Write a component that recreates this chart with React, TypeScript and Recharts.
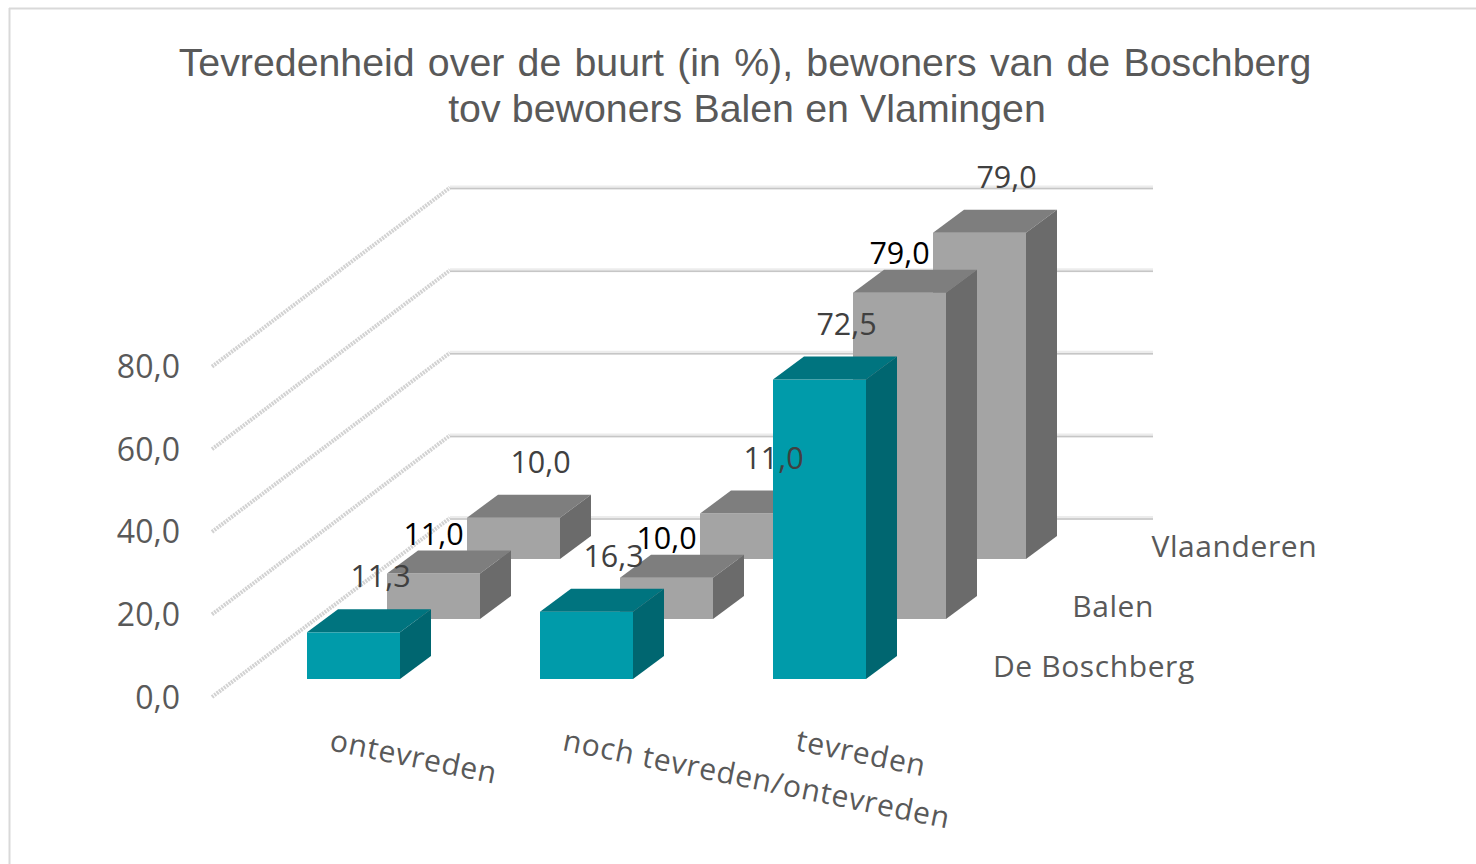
import { BarChart, Bar, XAxis, YAxis, CartesianGrid, LabelList } from "recharts";

const categories = ["ontevreden", "noch tevreden/ontevreden", "tevreden"];
const boschberg = [11.3, 16.3, 72.5];
const balen = [11.0, 10.0, 79.0];
const vlaanderen = [10.0, 11.0, 79.0];
const yTicks = [0, 20, 40, 60, 80];
const titleLines = [
  "Tevredenheid over de buurt (in %), bewoners van de Boschberg",
  "tov bewoners Balen en Vlamingen",
];

const data = categories.map((category, i) => ({
  category,
  boschberg: boschberg[i],
  balen: balen[i],
  vlaanderen: vlaanderen[i],
}));

const TEXT = "#595959";
const LABEL_FONT = "'Open Sans', sans-serif";
const DEPTH_X = 31;
const DEPTH_Y = 23;

const teal = { front: "#009baa", top: "#00747f", side: "#006670" };
const grey = { front: "#a4a4a4", top: "#7e7e7e", side: "#6b6b6b" };

// back to front, Excel's 3D column layout: every row shifts by dx/dy
const rows = [
  { key: "vlaanderen", name: "Vlaanderen", dx: 160, dy: -120, colors: grey, labelColor: "#404040", labelDx: 27, labelDy: -56 },
  { key: "balen", name: "Balen", dx: 80, dy: -60, colors: grey, labelColor: "#000000", labelDx: 0, labelDy: -40 },
  { key: "boschberg", name: "De Boschberg", dx: 0, dy: 0, colors: teal, labelColor: "#404040", labelDx: 27, labelDy: -56 },
];

function Cuboid({ x, y, width, height, dx, dy, colors }: any) {
  const l = x + dx;
  const r = l + width;
  const t = y + dy;
  const b = t + height;
  return (
    <g>
      <rect x={l} y={t} width={width} height={height} fill={colors.front} />
      <polygon
        points={`${l},${t} ${l + DEPTH_X},${t - DEPTH_Y} ${r + DEPTH_X},${t - DEPTH_Y} ${r},${t}`}
        fill={colors.top}
      />
      <polygon
        points={`${r},${t} ${r + DEPTH_X},${t - DEPTH_Y} ${r + DEPTH_X},${b - DEPTH_Y} ${r},${b}`}
        fill={colors.side}
      />
    </g>
  );
}

// floor/side wall line plus back wall line for one gridline
function WallLine({ x1, y1 }: any) {
  return (
    <g>
      <line x1={x1 - 25} y1={y1 + 18} x2={x1 + 213} y2={y1 - 161} stroke="#d2d2d2" strokeWidth={4} strokeDasharray="2 1" />
      <line x1={x1 + 213} y1={y1 - 161} x2={x1 + 916} y2={y1 - 161} stroke="#ececec" strokeWidth={4} />
      <line x1={x1 + 213} y1={y1 - 160} x2={x1 + 916} y2={y1 - 160} stroke="#c6c6c6" strokeWidth={1.5} />
    </g>
  );
}

function ValueTick({ x, y, payload }: any) {
  return (
    <text x={x - 57} y={y + 29.5} textAnchor="end" fontFamily={LABEL_FONT} fontSize={32} fill={TEXT}>
      {payload.value.toFixed(1).replace(".", ",")}
    </text>
  );
}

function CategoryTick({ x, y, payload }: any) {
  const px = x - 25;
  const py = y + 71;
  return (
    <text
      x={px}
      y={py}
      transform={`rotate(11.5 ${px} ${py})`}
      fontFamily={LABEL_FONT}
      fontSize={30}
      letterSpacing={0.8}
      fill={TEXT}
    >
      {payload.value}
    </text>
  );
}

export default function App() {
  return (
    <div style={{ position: "absolute", left: 0, top: 0, width: 1476, height: 864, background: "#fff" }}>
      <BarChart
        width={1476}
        height={864}
        data={data}
        barSize={93}
        barGap={-93}
        margin={{ top: 348.6, right: 540, bottom: 155, left: 177 }}
      >
        <line x1={9} y1={8.5} x2={1476} y2={8.5} stroke="#d9d9d9" strokeWidth={2} />
        <line x1={9.5} y1={8} x2={9.5} y2={864} stroke="#d9d9d9" strokeWidth={2} />
        {titleLines.map((line, i) => (
          <text
            key={line}
            x={745 + i * 2}
            y={76 + i * 46}
            textAnchor="middle"
            fontFamily="'Liberation Sans', sans-serif"
            fontSize={39.3}
            wordSpacing={i === 0 ? 2.3 : 0.3}
            fill={TEXT}
          >
            {line}
          </text>
        ))}
        <CartesianGrid vertical={false} horizontal={(props: any) => <WallLine key={props.key} {...props} />} />
        <YAxis
          width={60}
          domain={[0, 80]}
          ticks={yTicks}
          interval={0}
          axisLine={false}
          tickLine={false}
          tickSize={0}
          tickMargin={0}
          tick={ValueTick}
        />
        <XAxis
          dataKey="category"
          height={30}
          interval={0}
          axisLine={false}
          tickLine={false}
          tickSize={0}
          tickMargin={0}
          tick={CategoryTick}
        />
        {rows.map((row) => (
          <Bar
            key={row.key}
            dataKey={row.key}
            isAnimationActive={false}
            shape={(props: any) => <Cuboid {...props} dx={row.dx} dy={row.dy} colors={row.colors} />}
          />
        ))}
        {/* second pass: value labels sit on top of all the blocks */}
        {rows.map((row) => (
          <Bar key={row.key + "-label"} dataKey={row.key} isAnimationActive={false} shape={() => null}>
            <LabelList
              dataKey={row.key}
              content={({ x, y, width, value }: any) => (
                <text
                  x={x + width / 2 + row.dx + row.labelDx}
                  y={y + row.dy + row.labelDy + 11}
                  textAnchor="middle"
                  fontFamily={LABEL_FONT}
                  fontSize={30.5}
                  fill={row.labelColor}
                >
                  {value.toFixed(1).replace(".", ",")}
                </text>
              )}
            />
          </Bar>
        ))}
        {rows.map((row) => (
          <text
            key={row.name}
            x={993 + row.dx * 0.99}
            y={677 + row.dy}
            fontFamily={LABEL_FONT}
            fontSize={30}
            letterSpacing={0.6}
            fill={TEXT}
          >
            {row.name}
          </text>
        ))}
      </BarChart>
    </div>
  );
}
